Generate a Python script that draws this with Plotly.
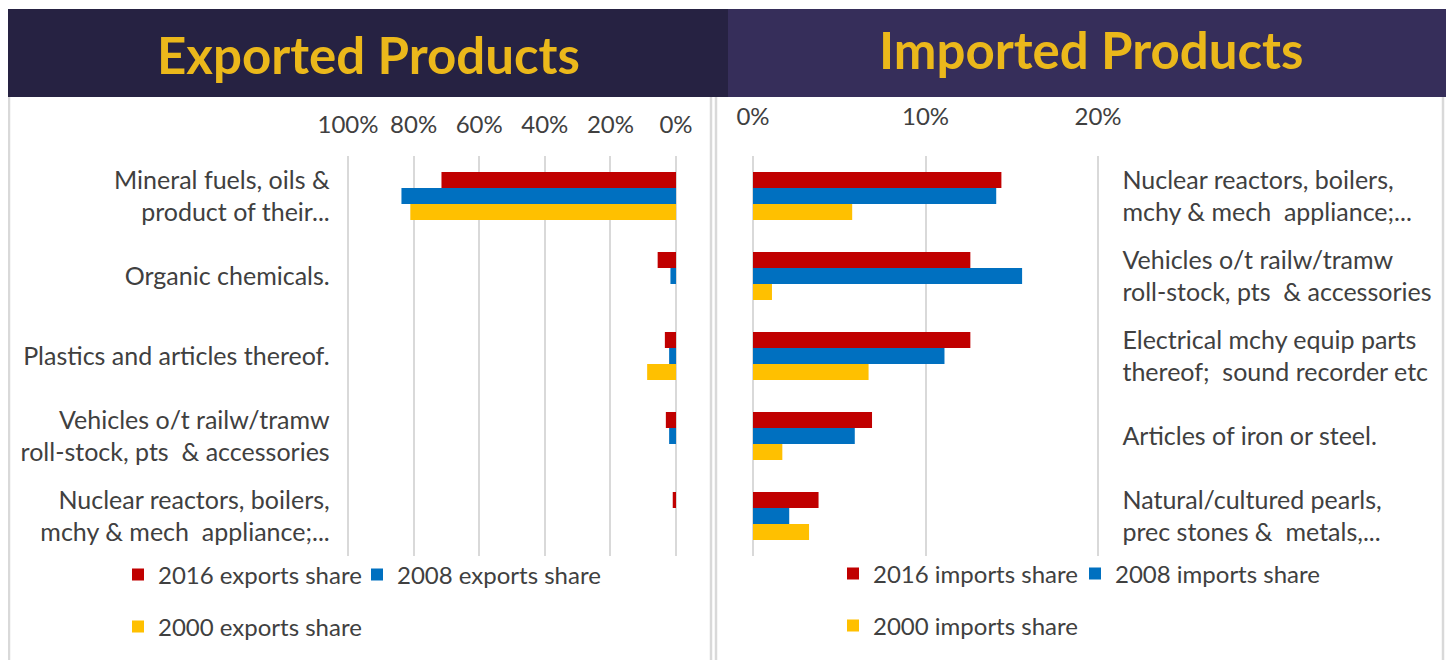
import plotly.graph_objects as go

W, H = 1454, 660
OFF = 8  # page body margin that shifts the figure in the browser

# ---------------- data ----------------
export_categories = [
    "Mineral fuels, oils &<br>product of their...",
    "Organic chemicals.",
    "Plastics and articles thereof.",
    "Vehicles o/t railw/tramw<br>roll-stock, pts  & accessories",
    "Nuclear reactors, boilers,<br>mchy & mech  appliance;...",
]
exports_2016 = [0.715, 0.056, 0.034, 0.031, 0.010]
exports_2008 = [0.837, 0.017, 0.021, 0.021, 0.0]
exports_2000 = [0.810, 0.0, 0.088, 0.0, 0.0]

import_categories = [
    "Nuclear reactors, boilers,<br>mchy & mech  appliance;...",
    "Vehicles o/t railw/tramw<br>roll-stock, pts  & accessories",
    "Electrical mchy equip parts<br>thereof;  sound recorder etc",
    "Articles of iron or steel.",
    "Natural/cultured pearls,<br>prec stones &  metals,...",
]
imports_2016 = [0.144, 0.126, 0.126, 0.069, 0.038]
imports_2008 = [0.141, 0.156, 0.111, 0.059, 0.021]
imports_2000 = [0.0575, 0.011, 0.067, 0.017, 0.0325]

export_ticks = [1.0, 0.8, 0.6, 0.4, 0.2, 0.0]
import_ticks = [0.0, 0.1, 0.2]

RED, BLUE, YELLOW = "#C00000", "#0070C0", "#FFC000"
TXT = "#404040"
GRID = "#D9D9D9"
FONT = "Lato"


def px(x):
    return (x - OFF) / W


def py(y):
    return 1 - (y - OFF) / H


fig = go.Figure()

for name, vals, col, lg in [
    ("2016 exports share", exports_2016, RED, "legend"),
    ("2008 exports share", exports_2008, BLUE, "legend2"),
    ("2000 exports share", exports_2000, YELLOW, "legend3"),
]:
    fig.add_trace(go.Bar(x=vals, y=export_categories, orientation="h", name=name,
                         marker=dict(color=col, line=dict(width=0)),
                         xaxis="x", yaxis="y", legend=lg))

for name, vals, col, lg in [
    ("2016 imports share", imports_2016, RED, "legend4"),
    ("2008 imports share", imports_2008, BLUE, "legend5"),
    ("2000 imports share", imports_2000, YELLOW, "legend6"),
]:
    fig.add_trace(go.Bar(x=vals, y=import_categories, orientation="h", name=name,
                         marker=dict(color=col, line=dict(width=0)),
                         xaxis="x2", yaxis="y2", legend=lg))

ydom = [py(556), py(156)]

tick_font = dict(family=FONT, size=24, color=TXT)
cat_font = dict(family=FONT, size=25, color=TXT)
leg_font = dict(family=FONT, size=24, color=TXT)

common_x = dict(side="top", tickformat=".0%", showgrid=True, gridcolor=GRID, gridwidth=2,
                zeroline=False, showline=False, ticks="", tickfont=tick_font,
                automargin=False, fixedrange=True)
common_y = dict(type="category", autorange="reversed", showgrid=False, zeroline=False,
                showline=False, ticks="", tickfont=cat_font, automargin=False,
                fixedrange=True)


def leg(xc, yc):
    # xc: centre of the legend swatch, yc: centre of the legend row (reference pixels)
    return dict(orientation="h", xref="container", yref="container",
                x=px(xc - 20), y=py(yc), xanchor="left", yanchor="middle",
                bgcolor="rgba(0,0,0,0)", font=leg_font)


fig.update_layout(
    width=W, height=H,
    margin=dict(l=0, r=0, t=0, b=0, autoexpand=False),
    paper_bgcolor="white", plot_bgcolor="white",
    barmode="group", bargap=0.4, bargroupgap=0,
    font=dict(family=FONT, size=24, color=TXT),
    showlegend=True,
    xaxis=dict(domain=[px(344.7), px(679.3)], range=[1.01, -0.01], tickvals=export_ticks,
               ticklabelstandoff=17, anchor="y", **common_x),
    yaxis=dict(domain=ydom, ticklabelstandoff=14, anchor="x", **common_y),
    xaxis2=dict(domain=[px(749.55), px(1101.45)], range=[-0.002, 0.202], tickvals=import_ticks,
                ticklabelstandoff=25, anchor="y2", **common_x),
    yaxis2=dict(domain=ydom, side="right", ticklabelstandoff=20, anchor="x2", **common_y),
    legend=leg(138, 575),
    legend2=leg(377, 575),
    legend3=leg(138, 627),
    legend4=leg(853, 574),
    legend5=leg(1095, 574),
    legend6=leg(853, 626),
)

# banners
fig.add_shape(type="rect", xref="paper", yref="paper", x0=px(8), x1=px(728), y0=py(97), y1=py(9),
              fillcolor="#262242", line=dict(width=0), layer="below")
fig.add_shape(type="rect", xref="paper", yref="paper", x0=px(728), x1=px(1462), y0=py(97), y1=py(9),
              fillcolor="#362E5A", line=dict(width=0), layer="below")

# chart area borders
for xb in [9, 711, 716, 1443]:
    fig.add_shape(type="line", xref="paper", yref="paper", x0=px(xb), x1=px(xb), y0=py(97), y1=0,
                  line=dict(color=GRID, width=2.5), layer="below")

# titles
fig.add_annotation(text="<b>Exported Products</b>", x=px(368), y=py(55), xref="paper", yref="paper",
                   xanchor="center", yanchor="middle", showarrow=False,
                   font=dict(family=FONT, size=51, color="#EBB81B"))
fig.add_annotation(text="<b>Imported Products</b>", x=px(1091), y=py(50), xref="paper", yref="paper",
                   xanchor="center", yanchor="middle", showarrow=False,
                   font=dict(family=FONT, size=51, color="#EBB81B"))

fig.write_html("out.html")
